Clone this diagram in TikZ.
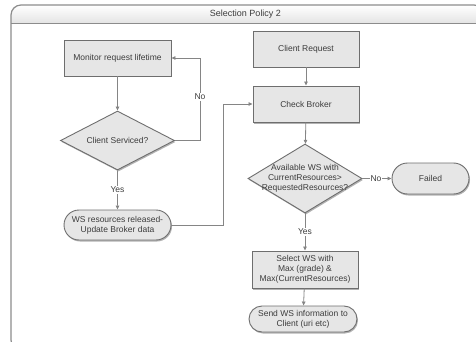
\documentclass[tikz,border=0pt]{standalone}
\usepackage{fontspec}
\setmainfont{Liberation Sans}
\usetikzlibrary{shapes.geometric,shapes.misc,arrows.meta,shadows}
\definecolor{boxfill}{HTML}{E6E6E6}
\definecolor{boxline}{HTML}{6E6E6E}
\definecolor{wire}{HTML}{858585}
\definecolor{ink}{HTML}{3C3C3C}
\definecolor{frameline}{HTML}{8C8C8C}
\begin{document}
\begin{tikzpicture}[x=1pt,y=-1pt,
  every node/.style={text=ink, font=\fontsize{8.5}{10}\selectfont},
  boxshadow/.style={drop shadow={shadow xshift=1pt,shadow yshift=-1.5pt,fill=black,opacity=0.3}},
  process/.style={rectangle, draw=boxline, line width=0.9pt, fill=boxfill, inner sep=0pt, align=center, boxshadow},
  terminal/.style={rounded rectangle, draw=boxline, line width=0.9pt, fill=boxfill, inner sep=0pt, align=center, boxshadow},
  decision/.style={diamond, draw=boxline, line width=0.9pt, fill=boxfill, inner sep=0pt, boxshadow},
  flow/.style={draw=wire, line width=0.8pt, -{Triangle[length=4pt,width=3.5pt]}},
  tag/.style={fill=white, inner sep=1pt}
]
\useasboundingbox (0,0) rectangle (476,342);

% outer frame with its header band
\path[top color=white, bottom color=gray!22]
  (11,24) {[rounded corners=10] -- (11,5) -- (484,5)} -- (484,24) -- cycle;
\draw[frameline, line width=1.2pt, rounded corners=10] (11,5) rectangle (484,350);
\draw[frameline, line width=1pt] (11,24) -- (484,24);
\node[font=\fontsize{9}{10}\selectfont] (title) at (245.5,14) {Selection Policy 2};

% left column: monitoring loop
\node[process, minimum width=107, minimum height=36] (monitor) at (117.5,58) {Monitor request lifetime};
\node[decision, minimum width=114, minimum height=59] (serviced) at (117.5,140.5) {};
\node (servicedtext) at (serviced) {Client Serviced?};
\node[terminal, minimum width=107, minimum height=30] (released) at (117.5,225) {WS resources released-\\Update Broker data};

% right column: request handling
\node[process, minimum width=106, minimum height=36] (client) at (306,49) {Client Request};
\node[process, minimum width=106, minimum height=36] (check) at (306,104) {Check Broker};
\node[decision, minimum width=114, minimum height=69] (avail) at (305,178.5) {};
\node[align=center] (availtext) at (avail) {Available WS with\\CurrentResources>\\RequestedResources?};
\node[terminal, minimum width=77, minimum height=31] (failed) at (430.5,178.5) {Failed};
\node[process, minimum width=106, minimum height=37] (select) at (305,269.5) {Select WS with\\Max (grade) \&\\Max(CurrentResources)};
\node[terminal, minimum width=108, minimum height=26] (send) at (303,319) {Send WS information to\\Client (uri etc)};

% connectors
\coordinate (loopL) at (200,58);
\coordinate (loopR) at (223,104);
\draw[flow] (monitor) -- (serviced);
\draw[flow] (serviced.east) -| (loopL) -- (monitor.east);
\node[tag] (noleft) at (200,97) {No};
\draw[flow] (serviced) -- (released);
\node[tag] (yesleft) at (117.5,190) {Yes};
\draw[flow] (released.east) -| (loopR) -- (check.west);
\draw[flow] (client) -- (check);
\draw[flow] (check) -- (avail);
\draw[flow] (avail.east) -- (failed.west);
\node[tag] (noright) at (376,178.5) {No};
\draw[flow] (avail) -- (select);
\node[tag] (yesright) at (305,232) {Yes};
\draw[flow] (select) -- (send);
\end{tikzpicture}
\end{document}
